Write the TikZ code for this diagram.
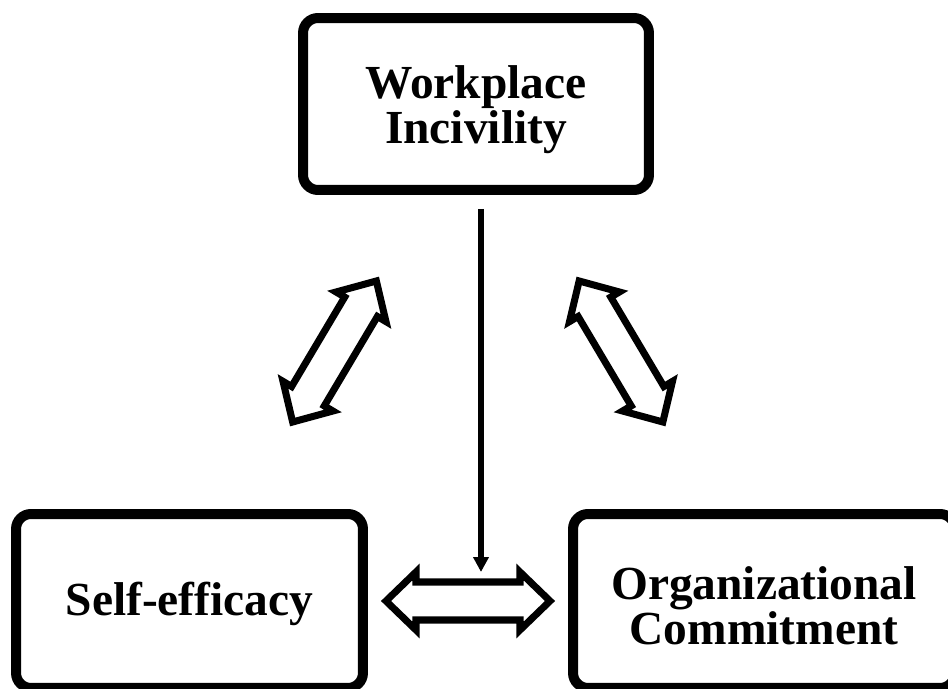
\documentclass[tikz,border=0pt]{standalone}
\usepackage{fontspec}
\setmainfont{Liberation Serif}
\usetikzlibrary{positioning,arrows.meta}
\tikzset{
  box/.style={draw=black, line width=5.7pt, rounded corners=0.3cm, align=center, inner sep=0pt, text depth=0pt, font=\bfseries\fontsize{27}{23.7}\selectfont},
  link/.style={-{Triangle[length=0.3cm,width=0.3cm]}, line width=2.85pt},
  hollow/.style={draw=black, fill=white, line width=4pt, line join=miter},
  twoway/.pic={
    \path[hollow] (-82,0) -- (-52,29) -- (-52,19) -- (52,19) -- (52,29) -- (82,0)
      -- (52,-29) -- (52,-19) -- (-52,-19) -- (-52,-29) -- cycle;
  },
}
\begin{document}
\begin{tikzpicture}[x=0.02cm, y=-0.02cm]
  \useasboundingbox (0,0) rectangle (948,689);
  \node[box, text height=44.4pt, minimum width=6.92cm, minimum height=3.44cm] (wi) at (476,104) {Workplace\\Incivility};
  \node[box, text height=16pt, minimum width=6.94cm, minimum height=3.48cm] (se) at (189.5,601) {Self-efficacy};
  \node[box, text height=50pt, minimum width=7.64cm, minimum height=3.48cm] (oc) at (764,601) {Organizational\\Commitment};
  \pic[rotate=59.3]  (wi-se) at (334.5,351.5) {twoway};
  \pic[rotate=-59.3] (wi-oc) at (621,351.5) {twoway};
  \pic (se-oc) at (468,601) {twoway};
  \coordinate (hit) at (481,572);
  \draw[link, shorten <=0.28cm] (wi.south -| hit) -- (hit);
\end{tikzpicture}
\end{document}
